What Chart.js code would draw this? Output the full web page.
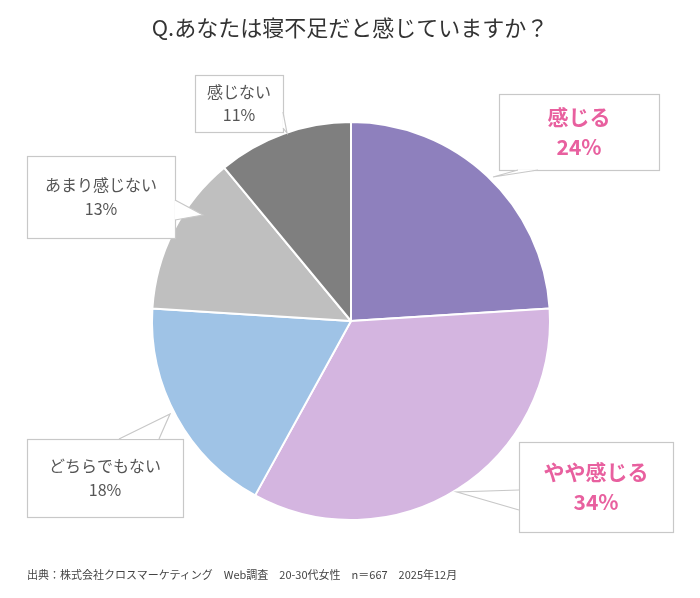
<!DOCTYPE html>
<html><head><meta charset="utf-8">
<script src="https://cdn.jsdelivr.net/npm/chart.js@4"></script>
<style>
body{margin:0;background:#fff;font-family:"Noto Sans CJK JP",sans-serif;}
#t{position:absolute;left:0;top:10px;width:700px;text-align:center;font-size:22px;color:#333;}
#f{position:absolute;left:27px;top:566px;font-size:11px;color:#444;}
#w{position:absolute;left:0;top:0;width:700px;height:598px;}
</style></head><body>
<div id="w"><canvas id="c"></canvas></div>
<div id="t">Q.あなたは寝不足だと感じていますか？</div>
<div id="f">出典：株式会社クロスマーケティング　Web調査　20-30代女性　n＝667　2025年12月</div>
<script>
const categories=["感じる","やや感じる","どちらでもない","あまり感じない","感じない"];
const values=[24,34,18,13,11];
const colors=["#8e80bd","#d4b5e0","#9fc3e6","#bfbfbf","#7f7f7f"];
const boxes=[
 {r:[499,94,160,76],tail:[[518,170],[538,170],[493,177]],pink:true,fs:21},
 {r:[519,442,154,90],tail:[[519,490],[519,510],[457,492]],pink:true,fs:21},
 {r:[27,439,156,78],tail:[[119,439],[159,439],[170,414]],pink:false,fs:16},
 {r:[27,156,148,82],tail:[[175,200],[175,220],[203,215]],pink:false,fs:16},
 {r:[195,75,88,57],tail:[[283,112],[283,128],[287,133]],pink:false,fs:16}
];
const callouts={id:'callouts',afterDraw(ch){
 const x=ch.ctx;
 boxes.forEach((b,i)=>{
  const [l,t,w,h]=b.r;
  x.save();
  x.fillStyle='#fff';x.strokeStyle='#c8c8c8';x.lineWidth=1.2;
  x.fillRect(l,t,w,h);x.strokeRect(l+0.5,t+0.5,w,h);
  const p=b.tail;
  x.beginPath();x.moveTo(p[0][0],p[0][1]);x.lineTo(p[2][0],p[2][1]);x.lineTo(p[1][0],p[1][1]);x.closePath();
  x.fill();
  x.beginPath();x.moveTo(p[0][0],p[0][1]);x.lineTo(p[2][0],p[2][1]);x.lineTo(p[1][0],p[1][1]);x.stroke();
  x.fillStyle=b.pink?'#e8609f':'#555';
  x.font=(b.pink?'bold ':'')+b.fs+'px "Noto Sans CJK JP"';
  x.textAlign='center';x.textBaseline='middle';
  const cx=l+w/2,cy=t+h/2,lh=b.fs*1.45;
  x.fillText(categories[i],cx,cy-lh/2);
  x.fillText(values[i]+'%',cx,cy+lh/2);
  x.restore();
 });
}};
new Chart(document.getElementById('c'),{
 type:'pie',
 data:{labels:categories,datasets:[{data:values,backgroundColor:colors,borderColor:'#fff',borderWidth:2}]},
 options:{responsive:true,maintainAspectRatio:false,animation:false,
  layout:{padding:{left:151,right:149,top:121,bottom:77}},
  plugins:{legend:{display:false},tooltip:{enabled:false}}},
 plugins:[callouts]
});
</script></body></html>
